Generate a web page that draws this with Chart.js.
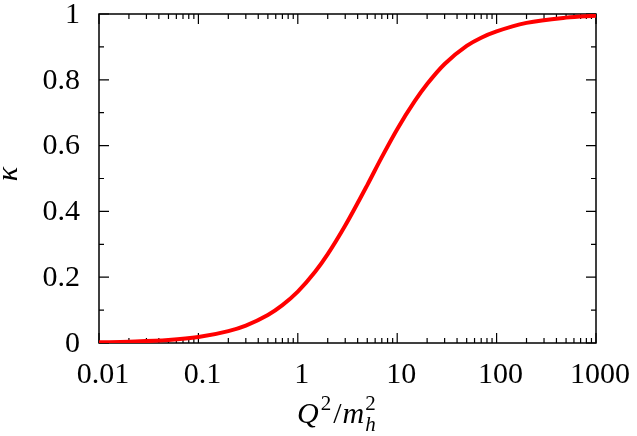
<!DOCTYPE html>
<html>
<head>
<meta charset="utf-8">
<script src="https://cdn.jsdelivr.net/npm/chart.js@4.4.0/dist/chart.umd.min.js"></script>
<style>
  html, body { margin: 0; padding: 0; background: #fff; }
  #wrap { width: 637px; height: 436px; }
</style>
</head>
<body>
<div id="wrap"><canvas id="kappa" width="637" height="436"></canvas></div>
<script>
// values
const qOverM = [0.01, 0.02, 0.05, 0.1, 0.2, 0.3, 0.5, 0.7, 1, 1.5, 2, 3, 5, 7, 10, 15, 20, 30, 50, 70, 100, 200, 500, 1000];
const kappa = [0.002, 0.004, 0.009, 0.018, 0.036, 0.053, 0.085, 0.115, 0.156, 0.217, 0.27, 0.357, 0.48, 0.565, 0.65, 0.735, 0.787, 0.848, 0.903, 0.928, 0.947, 0.973, 0.989, 0.995];

const xMajor = [0.01, 0.1, 1, 10, 100, 1000];
const xLabels = ['0.01', '0.1', '1', '10', '100', '1000'];
const yMajor = [0, 0.2, 0.4, 0.6, 0.8, 1];
const yLabels = ['0', '0.2', '0.4', '0.6', '0.8', '1'];
const yMinor = [0.1, 0.3, 0.5, 0.7, 0.9];

const serif = '"Liberation Serif", "DejaVu Serif", serif';

// gnuplot-like frame: inward ticks on all four sides, labels, axis titles
const framePlugin = {
    id: 'frame',
    beforeDatasetsDraw(chart) {
        const ctx = chart.ctx;
        const a = chart.chartArea;
        const xs = chart.scales.x, ys = chart.scales.y;
        ctx.save();
        ctx.strokeStyle = '#000';
        ctx.lineWidth = 1.5;
        ctx.strokeRect(a.left, a.top, a.right - a.left, a.bottom - a.top);

        ctx.lineWidth = 1.2;
        ctx.beginPath();
        // x ticks
        xMajor.forEach((v, i) => {
            const px = xs.getPixelForValue(v);
            ctx.moveTo(px, a.bottom); ctx.lineTo(px, a.bottom - 10);
            ctx.moveTo(px, a.top); ctx.lineTo(px, a.top + 10);
            if (i < xMajor.length - 1) {
                for (let m = 2; m <= 9; m++) {
                    const p = xs.getPixelForValue(v * m);
                    ctx.moveTo(p, a.bottom); ctx.lineTo(p, a.bottom - 5);
                    ctx.moveTo(p, a.top); ctx.lineTo(p, a.top + 5);
                }
            }
        });
        // y ticks
        yMajor.forEach(v => {
            const py = ys.getPixelForValue(v);
            ctx.moveTo(a.left, py); ctx.lineTo(a.left + 10, py);
            ctx.moveTo(a.right, py); ctx.lineTo(a.right - 10, py);
        });
        yMinor.forEach(v => {
            const py = ys.getPixelForValue(v);
            ctx.moveTo(a.left, py); ctx.lineTo(a.left + 5, py);
            ctx.moveTo(a.right, py); ctx.lineTo(a.right - 5, py);
        });
        ctx.stroke();

        // tick labels
        ctx.fillStyle = '#000';
        ctx.font = '30px ' + serif;
        ctx.textAlign = 'center';
        ctx.textBaseline = 'alphabetic';
        xMajor.forEach((v, i) => {
            ctx.fillText(xLabels[i], xs.getPixelForValue(v) + 4, a.bottom + 40);
        });
        ctx.textAlign = 'right';
        ctx.textBaseline = 'middle';
        yMajor.forEach((v, i) => {
            ctx.fillText(yLabels[i], a.left - 19, ys.getPixelForValue(v) + 1);
        });

        // y title (kappa)
        ctx.save();
        ctx.translate(9, 174);
        ctx.rotate(-Math.PI / 2);
        ctx.textAlign = 'center';
        ctx.textBaseline = 'middle';
        ctx.font = 'italic 30px ' + serif;
        ctx.fillText('κ', 0, 0);
        ctx.restore();

        // x title Q^2/m_h^2
        ctx.textAlign = 'left';
        ctx.textBaseline = 'alphabetic';
        const base = a.bottom + 80;
        let x = 297;
        ctx.font = 'italic 30px ' + serif;
        ctx.fillText('Q', x, base); x += ctx.measureText('Q').width + 2;
        ctx.font = '21px ' + serif;
        ctx.fillText('2', x, base - 13); x += ctx.measureText('2').width + 2;
        ctx.font = '30px ' + serif;
        ctx.fillText('/', x, base); x += ctx.measureText('/').width + 1;
        ctx.font = 'italic 30px ' + serif;
        ctx.fillText('m', x, base); x += ctx.measureText('m').width + 1;
        ctx.font = '21px ' + serif;
        ctx.fillText('2', x, base - 13);
        ctx.font = 'italic 21px ' + serif;
        ctx.fillText('h', x, base + 8);
        ctx.restore();
    }
};

new Chart(document.getElementById('kappa'), {
    type: 'line',
    data: {
        datasets: [{
            label: 'kappa',
            data: qOverM.map((q, i) => ({ x: q, y: kappa[i] })),
            borderColor: '#ff0000',
            borderWidth: 4,
            pointRadius: 0,
            fill: false,
            tension: 0.4,
            cubicInterpolationMode: 'monotone'
        }]
    },
    options: {
        responsive: false,
        animation: false,
        layout: {
            padding: { left: 99, top: 14, right: 41, bottom: 93 }
        },
        plugins: {
            legend: { display: false },
            tooltip: { enabled: false },
            title: { display: false }
        },
        scales: {
            x: { type: 'logarithmic', min: 0.01, max: 1000, display: false },
            y: { type: 'linear', min: 0, max: 1, display: false }
        }
    },
    plugins: [framePlugin]
});
</script>
</body>
</html>
